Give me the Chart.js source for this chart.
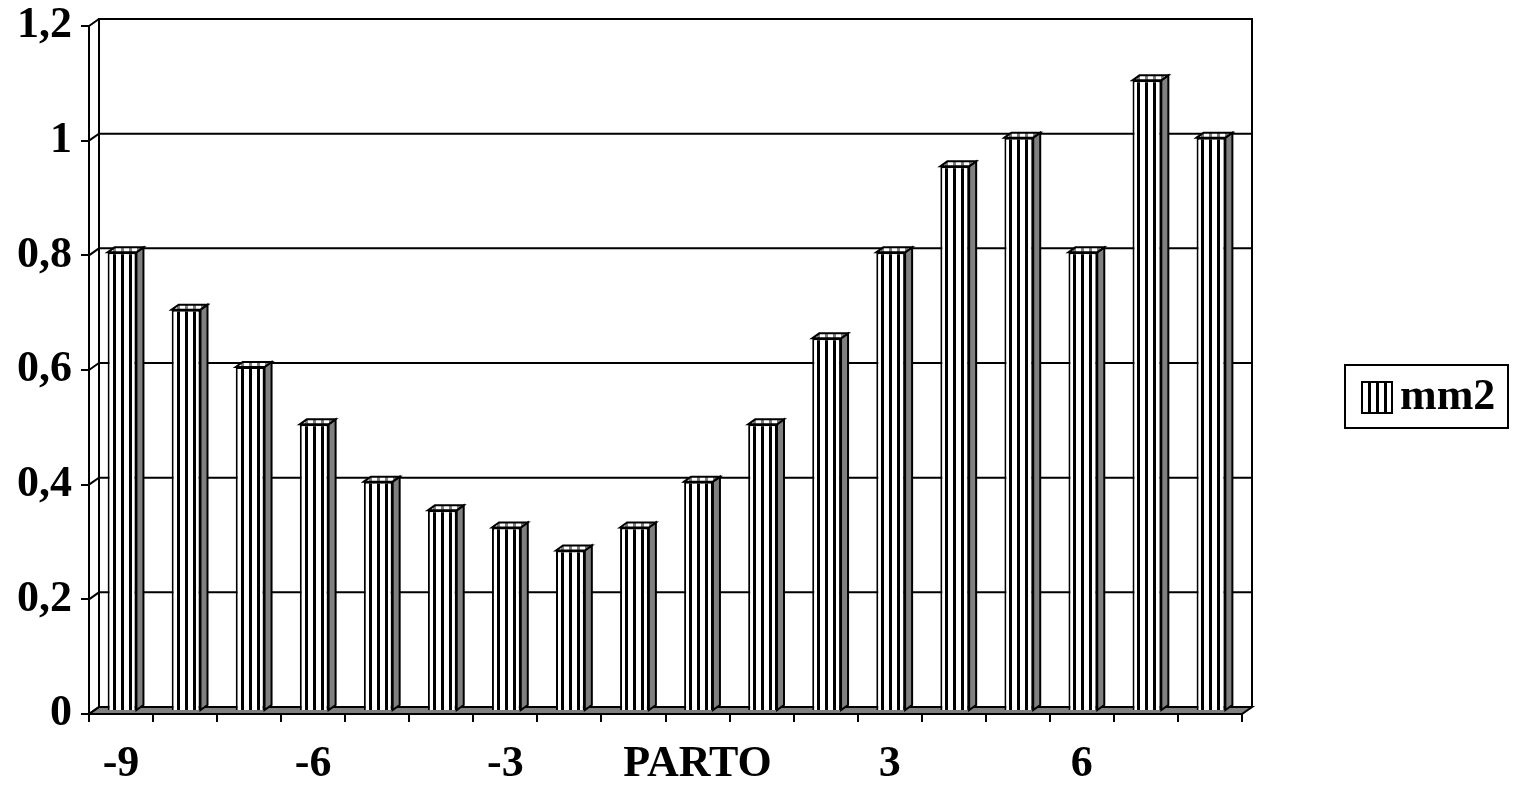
<!DOCTYPE html>
<html>
<head>
<meta charset="utf-8">
<script src="https://cdn.jsdelivr.net/npm/chart.js@4/dist/chart.umd.min.js"></script>
<style>
  body { margin: 0; background: #fff; }
  #grafico { display: block; }
</style>
</head>
<body>
<canvas id="grafico" width="1516" height="789"></canvas>
<script>
// Dados do gráfico
const categorias = ['-9', '-8', '-7', '-6', '-5', '-4', '-3', '-2', '-1', 'PARTO', '1', '2', '3', '4', '5', '6', '7', '8'];
const valoresMm2 = [0.8, 0.7, 0.6, 0.5, 0.4, 0.35, 0.32, 0.28, 0.32, 0.4, 0.5, 0.65, 0.8, 0.95, 1.0, 0.8, 1.1, 1.0];
const rotulosY = ['0', '0,2', '0,4', '0,6', '0,8', '1', '1,2'];

// profundidade das paredes e das barras (efeito 3D)
const PAREDE_DX = 10, PAREDE_DY = -7;
const BARRA_DX = 7, BARRA_DY = -5;
const FONTE = "'Liberation Serif', 'Times New Roman', serif";

const canvas = document.getElementById('grafico');
const ctxPrincipal = canvas.getContext('2d');

function criarPadrao(corListra, corFundo) {
    const c = document.createElement('canvas');
    c.width = 8;
    c.height = 8;
    const g = c.getContext('2d');
    g.fillStyle = corFundo;
    g.fillRect(0, 0, 8, 8);
    g.fillStyle = corListra;
    g.fillRect(0, 0, 3, 8);
    return ctxPrincipal.createPattern(c, 'repeat');
}

const padraoFrente = criarPadrao('#000', '#fff');
const padraoTopo = criarPadrao('#808080', '#fff');

// --- paredes, piso e grade "no fundo" ---
const cenario3d = {
    id: 'cenario3d',
    beforeDatasetsDraw(chart) {
        const ctx = chart.ctx;
        const { left, right, top, bottom } = chart.chartArea;
        const escalaY = chart.scales.y;

        ctx.save();
        ctx.strokeStyle = '#000';
        ctx.lineWidth = 2;

        // piso
        ctx.fillStyle = '#808080';
        ctx.beginPath();
        ctx.moveTo(left, bottom);
        ctx.lineTo(right, bottom);
        ctx.lineTo(right + PAREDE_DX, bottom + PAREDE_DY);
        ctx.lineTo(left + PAREDE_DX, bottom + PAREDE_DY);
        ctx.closePath();
        ctx.fill();
        ctx.stroke();

        // linhas de grade: diagonal na parede lateral + linha na parede do fundo
        escalaY.ticks.forEach(t => {
            const py = escalaY.getPixelForValue(t.value);
            ctx.beginPath();
            ctx.moveTo(left, py);
            ctx.lineTo(left + PAREDE_DX, py + PAREDE_DY);
            ctx.lineTo(right + PAREDE_DX, py + PAREDE_DY);
            ctx.stroke();
        });

        // contorno da parede do fundo
        ctx.beginPath();
        ctx.moveTo(left + PAREDE_DX, bottom + PAREDE_DY);
        ctx.lineTo(left + PAREDE_DX, top + PAREDE_DY);
        ctx.lineTo(right + PAREDE_DX, top + PAREDE_DY);
        ctx.lineTo(right + PAREDE_DX, bottom + PAREDE_DY);
        ctx.stroke();
        ctx.restore();

        // as barras ficam um pouco para dentro do piso
        ctx.save();
        ctx.translate(1, -3);
    },
    afterDatasetsDraw(chart) {
        const ctx = chart.ctx;
        ctx.strokeStyle = '#000';
        ctx.lineWidth = 2;
        ctx.lineJoin = 'miter';

        chart.getDatasetMeta(0).data.forEach(barra => {
            const { x, y, base, width } = barra.getProps(['x', 'y', 'base', 'width'], true);
            const esq = x - width / 2;
            const dir = x + width / 2;

            // lateral
            ctx.beginPath();
            ctx.moveTo(dir, y);
            ctx.lineTo(dir + BARRA_DX, y + BARRA_DY);
            ctx.lineTo(dir + BARRA_DX, base + BARRA_DY);
            ctx.lineTo(dir, base);
            ctx.closePath();
            ctx.fillStyle = '#808080';
            ctx.fill();
            ctx.stroke();

            // topo
            ctx.beginPath();
            ctx.moveTo(esq, y);
            ctx.lineTo(esq + BARRA_DX, y + BARRA_DY);
            ctx.lineTo(dir + BARRA_DX, y + BARRA_DY);
            ctx.lineTo(dir, y);
            ctx.closePath();
            ctx.fillStyle = padraoTopo;
            ctx.fill();
            ctx.stroke();
        });
        ctx.restore();
    },
    afterDraw(chart) {
        // legenda com moldura
        const ctx = chart.ctx;
        const ds = chart.data.datasets[0];
        ctx.save();
        ctx.strokeStyle = '#000';
        ctx.lineWidth = 2;
        ctx.strokeRect(1345, 365, 163, 63);
        ctx.fillStyle = padraoFrente;
        ctx.fillRect(1362, 382, 30, 31);
        ctx.strokeRect(1362, 382, 30, 31);
        ctx.fillStyle = '#000';
        ctx.font = 'bold 44px ' + FONTE;
        ctx.textBaseline = 'middle';
        ctx.fillText(ds.label, 1400, 398);
        ctx.restore();
    }
};

Chart.defaults.font.family = FONTE;
Chart.defaults.font.size = 44;
Chart.defaults.font.weight = 'bold';
Chart.defaults.color = '#000';

new Chart(canvas, {
    type: 'bar',
    data: {
        labels: categorias,
        datasets: [{
            label: 'mm2',
            data: valoresMm2,
            backgroundColor: padraoFrente,
            borderColor: '#000',
            borderWidth: 2,
            categoryPercentage: 1,
            barPercentage: 0.45
        }]
    },
    plugins: [cenario3d],
    options: {
        responsive: false,
        animation: false,
        events: [],
        layout: { padding: { top: 26, right: 274, bottom: 0, left: 0 } },
        plugins: {
            legend: { display: false },
            tooltip: { enabled: false }
        },
        scales: {
            x: {
                grid: { offset: true, drawOnChartArea: false, tickLength: 8, color: '#000', lineWidth: 2 },
                border: { display: true, color: '#000', width: 2 },
                ticks: {
                    autoSkip: false,
                    maxRotation: 0,
                    padding: 16,
                    callback: (v, i) => (i % 3 === 0 ? categorias[i] : '')
                },
                afterFit: s => { s.height = 75; s.paddingLeft = 0; s.paddingRight = 0; }
            },
            y: {
                min: 0,
                max: 1.2,
                grid: { drawOnChartArea: false, tickLength: 8, color: '#000', lineWidth: 2 },
                border: { display: true, color: '#000', width: 2 },
                ticks: {
                    stepSize: 0.2,
                    padding: 9,
                    callback: (v, i) => rotulosY[i]
                },
                afterFit: s => { s.width = 89; s.paddingTop = 0; s.paddingBottom = 0; }
            }
        }
    }
});
</script>
</body>
</html>
